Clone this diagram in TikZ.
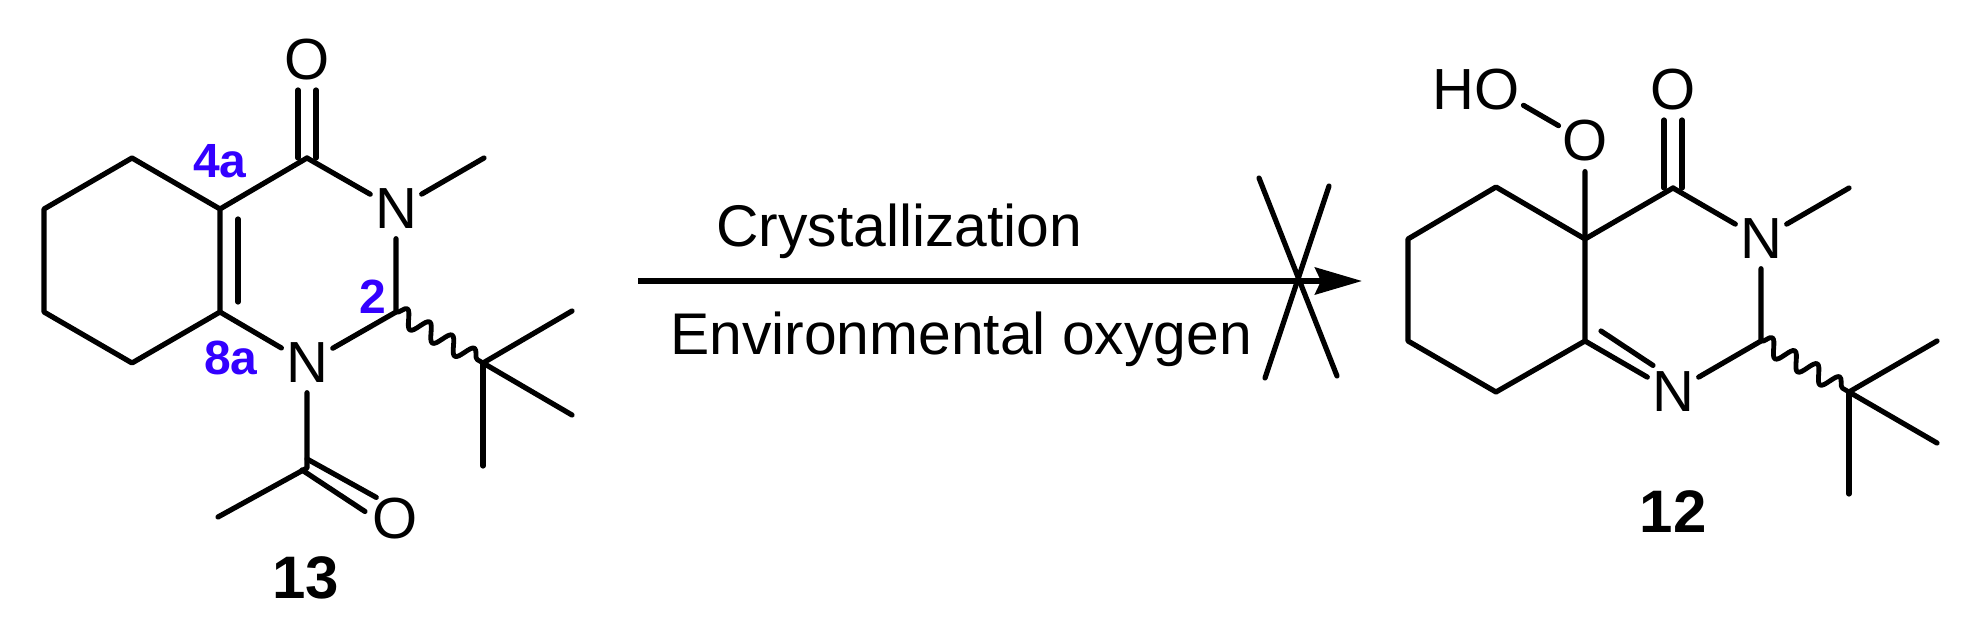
\documentclass[tikz,border=0pt]{standalone}
\usepackage{fontspec}
\setmainfont{Liberation Sans}
\usetikzlibrary{calc,arrows.meta,decorations.pathmorphing}
\definecolor{lblblue}{RGB}{51,0,255}
\tikzset{
  x=1pt,y=-1pt,
  bond/.style={line width=5.2pt,line cap=round,line join=round,black},
  wavy/.style={line width=4.8pt,line cap=round,line join=round,black,decorate,decoration={snake,segment length=26pt,amplitude=8.5pt,pre length=0pt,post length=0pt}},
  atom/.style={circle,inner sep=0pt,minimum size=59pt,font=\fontsize{58}{60}\selectfont,text=black},
  cmpd/.style={inner sep=0pt,font=\fontsize{60}{62}\selectfont\bfseries,text=black},
  poslabel/.style={inner sep=0pt,font=\fontsize{48}{50}\selectfont\bfseries,text=lblblue},
  cond/.style={inner sep=0pt,anchor=base west,font=\fontsize{58.8}{60}\selectfont,text=black},
}
\begin{document}
\begin{tikzpicture}
\useasboundingbox (0,0) rectangle (1968,620);
% --- left molecule 13
\coordinate (a1) at (132,158);
\coordinate (a2) at (44,209);
\coordinate (a3) at (44,312);
\coordinate (a4) at (132,363);
\coordinate (a8a) at (220,312);
\coordinate (a4a) at (220,209);
\coordinate (ac4) at (307,158);
\coordinate (ac2) at (396,312);
\coordinate (ame) at (484,158);
\coordinate (atb) at (483,363);
\coordinate (at1) at (572,311);
\coordinate (at2) at (572,415);
\coordinate (at3) at (483,466);
\coordinate (aac) at (307,468);
\coordinate (aacm) at (218,517);
\node[atom] (ao4) at (307,60) {O};
\node[atom] (an3) at (396,209) {\raisebox{-3pt}{N}};
\node[atom] (an1) at (307,363) {\raisebox{-2pt}{N}};
\node[atom] (aoac) at (395,519) {O};
\draw[bond] (a4a) -- (a1) -- (a2) -- (a3) -- (a4) -- (a8a) -- (a4a) -- (ac4);
\draw[bond] ($(a4a)+(18,10)$) -- ($(a8a)+(18,-10)$);
\draw[bond] (a8a) -- (an1) -- (ac2) -- (an3) -- (ac4);
\draw[bond] (an3) -- (ame);
\draw[bond,shorten >=30pt] ($(ac4)+(-9,0)$) -- ($(ao4)+(-9,0)$);
\draw[bond,shorten >=30pt] ($(ac4)+(9,0)$) -- ($(ao4)+(9,0)$);
\draw[wavy] (ac2) -- (atb);
\draw[bond] (atb) -- (at1);
\draw[bond] (atb) -- (at2);
\draw[bond] (atb) -- (at3);
\draw[bond] (an1) -- (aac) -- (aacm);
\draw[bond,shorten >=26pt] ($(aac)+(0,-9)$) -- ($(aoac)+(4,-9)$);
\draw[bond,shorten >=30pt] ($(aac)+(-5,2)$) -- ($(aoac)+(-5,9)$);
\node[poslabel] (l4a) at (220,161) {4a};
\node[poslabel] (l8a) at (231,358) {8a};
\node[poslabel] (l2) at (373,297) {2};
\node[cmpd] (n13) at (306,578) {13};
% --- reaction arrow
\coordinate (rs) at (638,281);
\coordinate (re) at (1362,281);
\draw[line width=5.6pt,black,-{Stealth[length=47pt,width=27pt,inset=6pt]}] (rs) -- (re);
\coordinate (x1a) at (1259,178);
\coordinate (x1b) at (1337,376);
\coordinate (x2a) at (1329,186);
\coordinate (x2b) at (1265,378);
\draw[bond] (x1a) -- (x1b);
\draw[bond] (x2a) -- (x2b);
\node[cond] (cr) at (716,247) {Crystallization};
\node[cond] (en) at (670,354) {Environmental oxygen};
% --- right molecule 12
\coordinate (b1) at (1496,187);
\coordinate (b2) at (1408,239);
\coordinate (b3) at (1408,341);
\coordinate (b4) at (1496,392);
\coordinate (b8a) at (1585,341);
\coordinate (b4a) at (1585,239);
\coordinate (bc4) at (1673,188);
\coordinate (bc2) at (1761,341);
\coordinate (bme) at (1849,188);
\coordinate (btb) at (1849,392);
\coordinate (bt1) at (1937,341);
\coordinate (bt2) at (1937,443);
\coordinate (bt3) at (1849,494);
\node[atom] (bo4) at (1673,90) {O};
\node[atom] (bn3) at (1761,239) {\raisebox{-3pt}{N}};
\node[atom] (bn1) at (1673,392) {N};
\node[atom] (bop) at (1585,141) {O};
\node[atom] (bho) at (1497,90) {\llap{H}O};
\draw[bond] (b4a) -- (b1) -- (b2) -- (b3) -- (b4) -- (b8a) -- (b4a) -- (bc4);
\draw[bond] (b8a) -- (bn1) -- (bc2) -- (bn3) -- (bc4);
\draw[bond,shorten >=30pt] ($(b8a)+(16,-10)$) -- ($(bn1)+(5,-10)$);
\draw[bond] (bn3) -- (bme);
\draw[bond] (b4a) -- (bop) -- (bho);
\draw[bond,shorten >=30pt] ($(bc4)+(-9,0)$) -- ($(bo4)+(-9,0)$);
\draw[bond,shorten >=30pt] ($(bc4)+(9,0)$) -- ($(bo4)+(9,0)$);
\draw[wavy] (bc2) -- (btb);
\draw[bond] (btb) -- (bt1);
\draw[bond] (btb) -- (bt2);
\draw[bond] (btb) -- (bt3);
\node[cmpd] (n12) at (1673,512) {12};
\end{tikzpicture}
\end{document}
